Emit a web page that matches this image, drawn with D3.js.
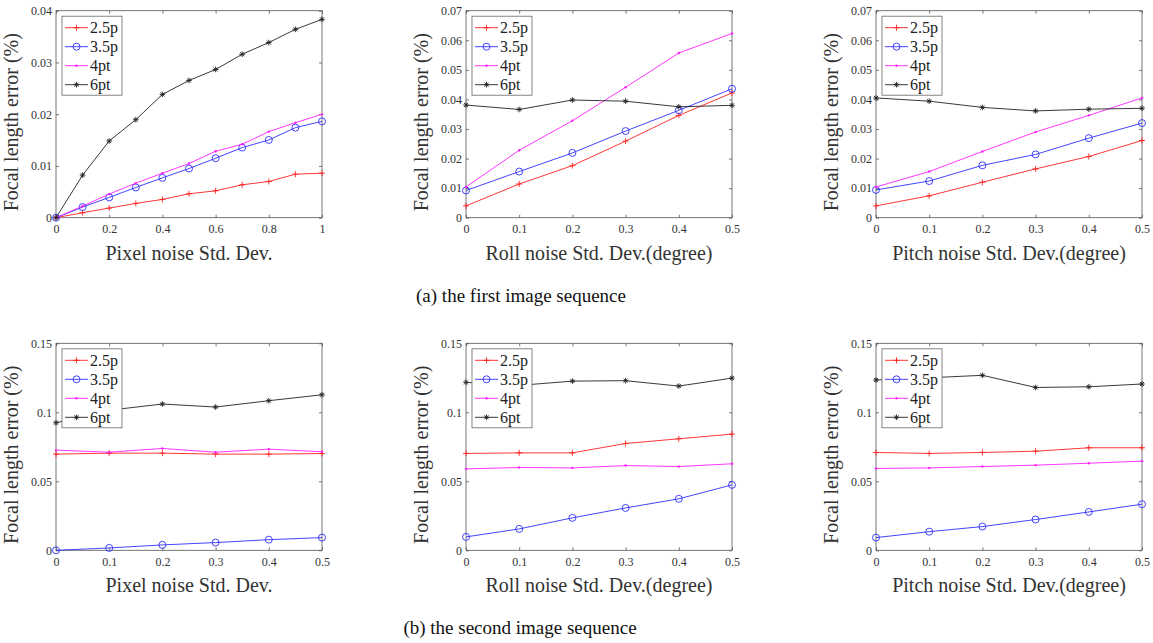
<!DOCTYPE html>
<html>
<head>
<meta charset="utf-8">
<script src="https://cdn.jsdelivr.net/npm/d3@7"></script>
<style>
  body { margin: 0; background: #fff; }
  svg { display: block; font-family: "Liberation Serif", "Times New Roman", serif; }
  .tick text { font-family: "Liberation Serif", serif; font-size: 12px; fill: #333; }
  .tick line { stroke: #555; stroke-width: 0.8; }
</style>
</head>
<body>
<script>
// series names and x values
var seriesNames = ["2.5p", "3.5p", "4pt", "6pt"];
var xPixelA = [0, 0.1, 0.2, 0.3, 0.4, 0.5, 0.6, 0.7, 0.8, 0.9, 1];
var xHalf = [0, 0.1, 0.2, 0.3, 0.4, 0.5];

// tick labels
var yTicksA1 = [0, 0.01, 0.02, 0.03, 0.04];
var yTicksA2 = [0, 0.01, 0.02, 0.03, 0.04, 0.05, 0.06, 0.07];
var yTicksB = [0, 0.05, 0.1, 0.15];
var xTicksPixelA = [0, 0.2, 0.4, 0.6, 0.8, 1];
var xTicksHalf = [0, 0.1, 0.2, 0.3, 0.4, 0.5];

// (a) first image sequence - pixel noise
var pixelA_25p = [0, 0.00096, 0.00186, 0.00276, 0.00353, 0.00462, 0.0052, 0.00636, 0.007, 0.00841, 0.0086];
var pixelA_35p = [0, 0.00205, 0.00392, 0.00584, 0.0077, 0.0095, 0.01149, 0.01355, 0.01502, 0.0174, 0.01862];
var pixelA_4pt = [0, 0.00225, 0.00456, 0.00668, 0.0086, 0.01047, 0.01284, 0.01419, 0.01663, 0.01836, 0.01997];
var pixelA_6pt = [0, 0.00822, 0.01483, 0.01894, 0.02382, 0.02652, 0.02864, 0.03159, 0.03384, 0.0364, 0.03833];

// (a) roll noise
var rollA_25p = [0.0040, 0.0114, 0.0176, 0.0259, 0.0346, 0.0422];
var rollA_35p = [0.0092, 0.0156, 0.0219, 0.0293, 0.0363, 0.0436];
var rollA_4pt = [0.0104, 0.0228, 0.0328, 0.0441, 0.0557, 0.0623];
var rollA_6pt = [0.0381, 0.0366, 0.0398, 0.0394, 0.0375, 0.0380];

// (a) pitch noise
var pitchA_25p = [0.0040, 0.0074, 0.0120, 0.0165, 0.0207, 0.0261];
var pitchA_35p = [0.0094, 0.0124, 0.0177, 0.0214, 0.0269, 0.0320];
var pitchA_4pt = [0.0104, 0.0156, 0.0224, 0.0290, 0.0346, 0.0405];
var pitchA_6pt = [0.0405, 0.0394, 0.0373, 0.0361, 0.0367, 0.0370];

// (b) second image sequence - pixel noise
var pixelB_25p = [0.0697, 0.0704, 0.0704, 0.0697, 0.0697, 0.0701];
var pixelB_35p = [0.0, 0.0017, 0.0039, 0.0056, 0.0077, 0.0092];
var pixelB_4pt = [0.0726, 0.0711, 0.0738, 0.0711, 0.0733, 0.0714];
var pixelB_6pt = [0.0924, 0.1015, 0.1060, 0.1038, 0.1084, 0.1127];

// (b) roll noise
var rollB_25p = [0.0702, 0.0706, 0.0706, 0.0774, 0.0808, 0.0842];
var rollB_35p = [0.0097, 0.0155, 0.0235, 0.0307, 0.0373, 0.0474];
var rollB_4pt = [0.0590, 0.0600, 0.0597, 0.0614, 0.0607, 0.0627];
var rollB_6pt = [0.1217, 0.1195, 0.1226, 0.1229, 0.1190, 0.1248];

// (b) pitch noise
var pitchB_25p = [0.0709, 0.0702, 0.0709, 0.0718, 0.0743, 0.0743];
var pitchB_35p = [0.0092, 0.0135, 0.0172, 0.0223, 0.0278, 0.0334];
var pitchB_4pt = [0.0593, 0.0597, 0.0607, 0.0617, 0.0631, 0.0646];
var pitchB_6pt = [0.1234, 0.1250, 0.1268, 0.1180, 0.1185, 0.1205];

var colors = ["#ff2020", "#3030ff", "#ff20ff", "#222"];

var panels = [
  { left: 56, top: 10.7, x: xPixelA, xMax: 1, xTicks: xTicksPixelA, yMax: 0.04, yTicks: yTicksA1,
    xLabel: "Pixel noise Std. Dev.", series: [pixelA_25p, pixelA_35p, pixelA_4pt, pixelA_6pt] },
  { left: 466, top: 10.7, x: xHalf, xMax: 0.5, xTicks: xTicksHalf, yMax: 0.07, yTicks: yTicksA2,
    xLabel: "Roll noise Std. Dev.(degree)", series: [rollA_25p, rollA_35p, rollA_4pt, rollA_6pt] },
  { left: 876, top: 10.7, x: xHalf, xMax: 0.5, xTicks: xTicksHalf, yMax: 0.07, yTicks: yTicksA2,
    xLabel: "Pitch noise Std. Dev.(degree)", series: [pitchA_25p, pitchA_35p, pitchA_4pt, pitchA_6pt] },
  { left: 56, top: 343.3, x: xHalf, xMax: 0.5, xTicks: xTicksHalf, yMax: 0.15, yTicks: yTicksB,
    xLabel: "Pixel noise Std. Dev.", series: [pixelB_25p, pixelB_35p, pixelB_4pt, pixelB_6pt] },
  { left: 466, top: 343.3, x: xHalf, xMax: 0.5, xTicks: xTicksHalf, yMax: 0.15, yTicks: yTicksB,
    xLabel: "Roll noise Std. Dev.(degree)", series: [rollB_25p, rollB_35p, rollB_4pt, rollB_6pt] },
  { left: 876, top: 343.3, x: xHalf, xMax: 0.5, xTicks: xTicksHalf, yMax: 0.15, yTicks: yTicksB,
    xLabel: "Pitch noise Std. Dev.(degree)", series: [pitchB_25p, pitchB_35p, pitchB_4pt, pitchB_6pt] }
];

var width = 266;
var height = 207;

var svg = d3.select("body")
  .append("svg")
  .attr("width", 1153)
  .attr("height", 643);

var fmt = function(d) { return String(+d.toFixed(3)); };

// draw one marker of type i at (0,0)
function marker(g, i) {
  var c = colors[i];
  if (i === 0) {
    g.append("path").attr("d", "M-3,0H3M0,-3V3").attr("stroke", c).attr("stroke-width", 0.9).attr("fill", "none");
  } else if (i === 1) {
    g.append("circle").attr("r", 3.5).attr("stroke", c).attr("stroke-width", 0.9).attr("fill", "none");
  } else if (i === 2) {
    g.append("circle").attr("r", 1.2).attr("fill", c);
  } else {
    g.append("path").attr("d", "M-2.8,0H2.8M0,-2.8V2.8M-2,-2L2,2M-2,2L2,-2")
      .attr("stroke", c).attr("stroke-width", 0.9).attr("fill", "none");
  }
}

panels.forEach(function(p) {
  var g = svg.append("g").attr("transform", `translate(${p.left}, ${p.top})`);

  var x = d3.scaleLinear().domain([0, p.xMax]).range([0, width]);
  var y = d3.scaleLinear().domain([0, p.yMax]).range([height, 0]);

  // box
  g.append("rect")
    .attr("width", width).attr("height", height)
    .attr("fill", "none").attr("stroke", "#555").attr("stroke-width", 0.8);

  // axes with inward ticks
  var bottom = g.append("g").attr("transform", `translate(0, ${height})`)
    .call(d3.axisBottom(x).tickValues(p.xTicks).tickSize(-3).tickPadding(7).tickFormat(fmt));
  var left = g.append("g")
    .call(d3.axisLeft(y).tickValues(p.yTicks).tickSize(-3).tickPadding(4).tickFormat(fmt));
  var top = g.append("g")
    .call(d3.axisTop(x).tickValues(p.xTicks).tickSize(-3).tickFormat(""));
  var right = g.append("g").attr("transform", `translate(${width}, 0)`)
    .call(d3.axisRight(y).tickValues(p.yTicks).tickSize(-3).tickFormat(""));
  [bottom, left, top, right].forEach(function(a) {
    a.select(".domain").remove();
    a.attr("font-family", "Liberation Serif, serif").attr("font-size", 12);
  });

  // lines and markers
  p.series.forEach(function(vals, i) {
    var pts = vals.map(function(v, k) { return [p.x[k], v]; });
    g.append("path")
      .datum(pts)
      .attr("fill", "none")
      .attr("stroke", colors[i])
      .attr("stroke-width", 0.9)
      .attr("d", d3.line().x(d => x(d[0])).y(d => y(d[1])));
    g.selectAll(null)
      .data(pts)
      .enter()
      .append("g")
      .attr("transform", d => `translate(${x(d[0])}, ${y(d[1])})`)
      .each(function() { marker(d3.select(this), i); });
  });

  // legend
  var lg = g.append("g").attr("transform", "translate(6, 5.5)");
  lg.append("rect").attr("width", 60).attr("height", 79)
    .attr("fill", "#fff").attr("stroke", "#666").attr("stroke-width", 0.8);
  seriesNames.forEach(function(name, i) {
    var row = lg.append("g").attr("transform", `translate(0, ${11.5 + i * 19})`);
    row.append("line").attr("x1", 3).attr("x2", 26).attr("stroke", colors[i]).attr("stroke-width", 0.9);
    marker(row.append("g").attr("transform", "translate(14.5, 0)"), i);
    row.append("text").attr("x", 28).attr("dy", "0.35em")
      .style("font-size", "16px").attr("fill", "#222").text(name);
  });

  // axis labels
  g.append("text")
    .attr("x", width / 2).attr("y", height + 42)
    .attr("text-anchor", "middle")
    .style("font-size", "20px").attr("fill", "#333")
    .text(p.xLabel);

  g.append("text")
    .attr("transform", `translate(${-38}, ${height / 2 + 8}) rotate(-90)`)
    .attr("text-anchor", "middle")
    .style("font-size", "20px").attr("fill", "#333")
    .text("Focal length error (%)");
});

// captions
svg.append("text")
  .attr("x", 521).attr("y", 302)
  .attr("text-anchor", "middle")
  .style("font-size", "19px").attr("fill", "#111")
  .text("(a) the first image sequence");

svg.append("text")
  .attr("x", 520).attr("y", 634)
  .attr("text-anchor", "middle")
  .style("font-size", "19px").attr("fill", "#111")
  .text("(b) the second image sequence");
</script>
</body>
</html>
